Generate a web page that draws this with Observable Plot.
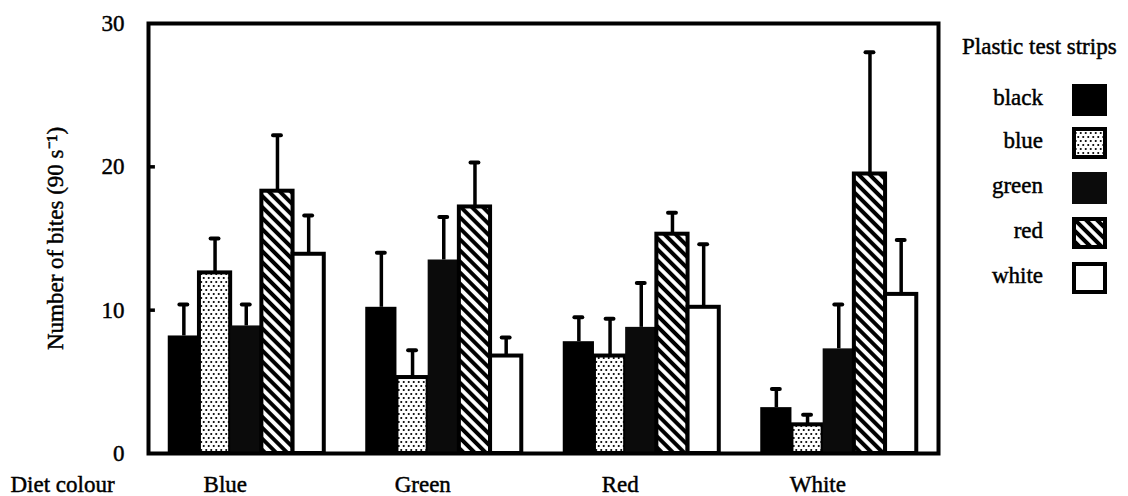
<!DOCTYPE html>
<html>
<head>
<meta charset="utf-8">
<script src="https://cdn.jsdelivr.net/npm/d3@7"></script>
<script src="https://cdn.jsdelivr.net/npm/@observablehq/plot@0.6"></script>
<style>
  html, body { margin: 0; padding: 0; background: #fff; }
  #wrap { position: relative; width: 1128px; height: 496px; font-family: "Liberation Serif", "Times New Roman", serif; color: #000; }
  #chart { position: absolute; left: 0; top: 0; }
  #chart svg text { stroke: #000; stroke-width: 0.45px; }
  #legend-title { position: absolute; left: 962px; top: 34px; font-size: 23px; line-height: 26px; white-space: nowrap; -webkit-text-stroke: 0.45px #000; }
  .lg-label { position: absolute; width: 120px; left: 923px; text-align: right; font-size: 23px; line-height: 26px; white-space: nowrap; -webkit-text-stroke: 0.45px #000; }
  .lg-swatch { position: absolute; left: 1072px; }
</style>
</head>
<body>
<svg width="0" height="0" style="position:absolute">
  <defs>
    <pattern id="dots" patternUnits="userSpaceOnUse" width="5" height="8">
      <rect width="5" height="8" fill="#fff"/>
      <circle cx="1.25" cy="2" r="1.05" fill="#000"/>
      <circle cx="3.75" cy="6" r="1.05" fill="#000"/>
    </pattern>
    <pattern id="hatch" patternUnits="userSpaceOnUse" width="7.8" height="7.8" patternTransform="rotate(-45)">
      <rect width="7.8" height="7.8" fill="#000"/>
      <rect x="2" width="3.8" height="7.8" fill="#fff"/>
    </pattern>
  </defs>
</svg>
<div id="wrap">
  <div id="chart"></div>
  <div id="legend-title"></div>
</div>
<script>
// ---- data ----
const diets = ["Blue", "Green", "Red", "White"];          // diet colour groups
const strips = ["black", "blue", "green", "red", "white"]; // plastic test strips
const meanBlack = [8.2, 10.2, 7.8, 3.2];
const meanBlue  = [12.6, 5.3, 6.8, 2.0];
const meanGreen = [8.9, 13.5, 8.8, 7.3];
const meanRed   = [18.3, 17.2, 15.3, 19.5];
const meanWhite = [13.9, 6.8, 10.2, 11.1];
const seBlack = [2.2, 3.8, 1.7, 1.3];
const seBlue  = [2.4, 1.9, 2.6, 0.7];
const seGreen = [1.5, 3.0, 3.1, 3.1];
const seRed   = [3.9, 3.1, 1.5, 8.5];
const seWhite = [2.7, 1.3, 4.4, 3.8];
const yTicks = [0, 10, 20, 30];
const yLabel = "Number of bites (90 s\u207B\u00B9)";
const xLabel = "Diet colour";
const legendTitle = "Plastic test strips";

// ---- build table ----
const means = [meanBlack, meanBlue, meanGreen, meanRed, meanWhite];
const ses = [seBlack, seBlue, seGreen, seRed, seWhite];
const rows = [];
strips.forEach((s, si) => diets.forEach((d, gi) => rows.push({diet: d, strip: s, gi, si, mean: means[si][gi], se: ses[si][gi]})));

const GROUP_START = 0.1, BAR_W = 0.158, CAP = 0.02;
const bx1 = d => d.gi + GROUP_START + d.si * BAR_W;
const bx2 = d => bx1(d) + BAR_W;
const bxc = d => bx1(d) + BAR_W / 2;

const stripStyle = {
  black: {fill: "#000"},
  blue:  {fill: "url(#dots)", stroke: "#000", strokeWidth: 4},
  green: {fill: "#0b0b0b"},
  red:   {fill: "url(#hatch)", stroke: "#000", strokeWidth: 4},
  white: {fill: "#fff", stroke: "#000", strokeWidth: 4}
};

const barMarks = strips.map(s => Plot.rect(rows.filter(r => r.strip === s), {
  x1: bx1, x2: bx2, y1: 0, y2: "mean", ...stripStyle[s]
}));

const chart = Plot.plot({
  width: 1128,
  height: 496,
  marginLeft: 148,
  marginRight: 190,
  marginTop: 23,
  marginBottom: 43,
  style: {fontFamily: "Liberation Serif, Times New Roman, serif", fontSize: "23px", color: "#000", background: "transparent"},
  x: {domain: [0, 4], axis: null},
  y: {domain: [0, 30], axis: null},
  marks: [
    ...barMarks,
    Plot.ruleX(rows, {x: bxc, y1: "mean", y2: d => d.mean + d.se, stroke: "#000", strokeWidth: 3.5}),
    Plot.ruleY(rows, {y: d => d.mean + d.se, x1: d => bxc(d) - CAP, x2: d => bxc(d) + CAP, stroke: "#000", strokeWidth: 4, strokeLinecap: "round"}),
    Plot.ruleY(yTicks.filter(t => t > 0 && t < 30), {x1: 0, x2: 0.035, stroke: "#000", strokeWidth: 3.5}),
    Plot.frame({stroke: "#000", strokeWidth: 4}),
    Plot.axisY(yTicks, {tickSize: 0, tickPadding: 24, label: null, fontSize: 23}),
    Plot.axisX(diets.map((d, i) => i + 0.495), {tickSize: 0, tickPadding: 22, dx: -21, tickFormat: v => diets[Math.floor(v)], label: null, fontSize: 23}),
    Plot.text([yLabel], {frameAnchor: "left", textAnchor: "middle", rotate: -90, dx: -93, fontSize: 23, fill: "#000"}),
    Plot.text([xLabel], {frameAnchor: "bottom-left", dx: -138, dy: 22, lineAnchor: "top", textAnchor: "start", fontSize: 23, fill: "#000"})
  ]
});
document.getElementById("chart").appendChild(chart);

// ---- legend ----
const wrap = document.getElementById("wrap");
document.getElementById("legend-title").textContent = legendTitle;
const legendCenters = [100, 143, 188, 233, 278];
const swatchInner = {
  black: '<rect x="0" y="0" width="35" height="32" fill="#000"/>',
  blue:  '<rect x="2" y="2" width="31" height="28" fill="url(#dots)" stroke="#000" stroke-width="4"/>',
  green: '<rect x="0" y="0" width="35" height="32" fill="#0b0b0b"/>',
  red:   '<rect x="2" y="2" width="31" height="28" fill="url(#hatch)" stroke="#000" stroke-width="4"/>',
  white: '<rect x="2" y="2" width="31" height="28" fill="#fff" stroke="#000" stroke-width="4"/>'
};
strips.forEach((s, i) => {
  const cy = legendCenters[i];
  const lab = document.createElement("div");
  lab.className = "lg-label";
  lab.style.top = (cy - 15) + "px";
  lab.textContent = s;
  wrap.appendChild(lab);
  const sw = document.createElement("div");
  sw.className = "lg-swatch";
  sw.style.top = (cy - 16) + "px";
  sw.innerHTML = '<svg width="35" height="32" style="display:block">' + swatchInner[s] + '</svg>';
  wrap.appendChild(sw);
});
</script>
</body>
</html>
